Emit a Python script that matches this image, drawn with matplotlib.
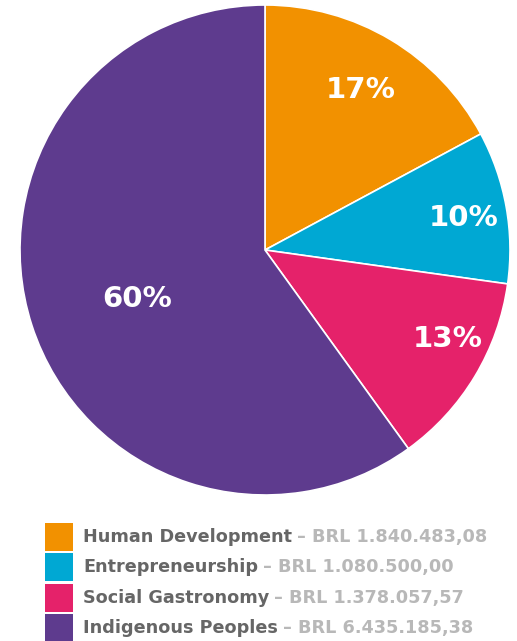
import matplotlib
matplotlib.use("Agg")
import matplotlib.pyplot as plt
from matplotlib.patches import Rectangle
import numpy as np

# data
categories = ["Human Development", "Entrepreneurship", "Social Gastronomy", "Indigenous Peoples"]
amounts = [1840483.08, 1080500.00, 1378057.57, 6435185.38]
amount_labels = ["BRL 1.840.483,08", "BRL 1.080.500,00", "BRL 1.378.057,57", "BRL 6.435.185,38"]
colors = ["#F29100", "#00A8D3", "#E5226A", "#5E3B8E"]

plt.rcParams["font.family"] = ["DejaVu Sans"]

W, H = 517, 641
fig = plt.figure(figsize=(W / 100, H / 100), dpi=100)

# pie axes: centre ~ (265, 250), radius ~ 245 px
cx, cy, r = 265, 250, 245
ax = fig.add_axes([(cx - r) / W, (H - cy - r) / H, 2 * r / W, 2 * r / H])
wedges, _ = ax.pie(amounts, colors=colors, startangle=90, counterclock=False,
                   wedgeprops=dict(edgecolor="white", linewidth=1.2))
ax.set_xlim(-1, 1)
ax.set_ylim(-1, 1)
ax.set_aspect("equal")
ax.axis("off")

# percentage labels near wedge mid-angles
total = sum(amounts)
label_r = [0.76, 0.82, 0.83, 0.56]
label_da = [0, -1, 5, 3]
for w, v, lr, da in zip(wedges, amounts, label_r, label_da):
    ang = np.radians((w.theta1 + w.theta2) / 2 + da)
    ax.text(lr * np.cos(ang), lr * np.sin(ang), f"{round(100 * v / total)}%",
            ha="center", va="center", color="white", fontsize=21, fontweight="bold")

# legend drawn by hand
fig.canvas.draw()
renderer = fig.canvas.get_renderer()
row_y = [537, 567, 598, 628]
for name, amt, col, y in zip(categories, amount_labels, colors, row_y):
    fig.patches.append(Rectangle((45 / W, (H - y - 14) / H), 28 / W, 28 / H,
                                 transform=fig.transFigure, facecolor=col, edgecolor="none"))
    t = fig.text(83 / W, (H - y) / H, name, ha="left", va="center",
                 fontsize=12.7, fontweight="bold", color="#666666")
    bb = t.get_window_extent(renderer)
    fig.text((bb.x1 + 5) / W, (H - y) / H, "– " + amt, ha="left", va="center",
             fontsize=12.7, fontweight="bold", color="#B8B8B8")

fig.savefig("out.png", dpi=100)
